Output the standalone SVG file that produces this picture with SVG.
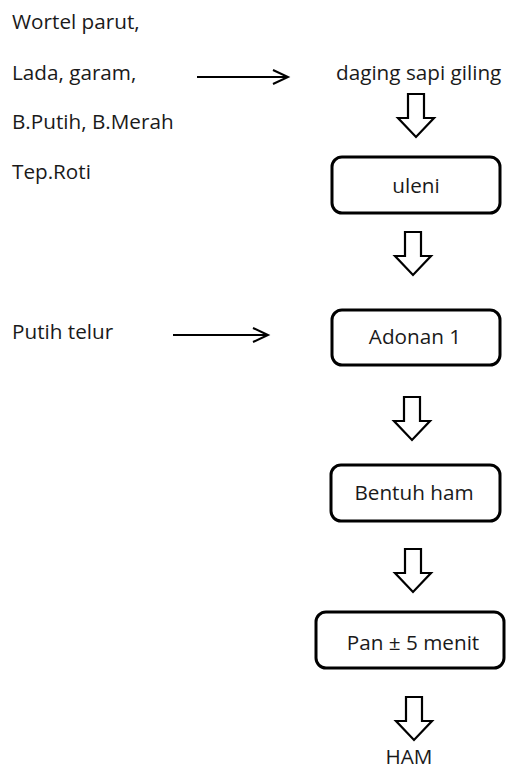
<svg xmlns="http://www.w3.org/2000/svg" width="511" height="774" viewBox="0 0 511 774">
<style>
text{font-family:"Open Sans","Noto Sans",sans-serif;font-size:20.7px;fill:#1a1a1a}
.c{text-anchor:middle}
.box{fill:#fff;stroke:#000;stroke-width:3}
.line{stroke:#000;stroke-width:2;fill:none}
.head{stroke:#000;stroke-width:2;fill:none;stroke-linejoin:miter}
.blk{fill:#fff;stroke:#000;stroke-width:2.2;stroke-linejoin:miter}
</style>
<defs>
<path id="ba" d="M-8,0 H8 V24 H18 L0,43 L-18,24 H-8 Z"/>
</defs>
<rect width="511" height="774" fill="#fff"/>
<g id="ingredients">
<text x="12" y="29">Wortel parut,</text>
<text x="12" y="80">Lada, garam,</text>
<text x="12" y="129">B.Putih, B.Merah</text>
<text x="12" y="179">Tep.Roti</text>
</g>
<g id="putih-telur"><text x="12" y="339">Putih telur</text></g>
<g id="daging"><text x="336" y="80">daging sapi giling</text></g>
<g id="uleni"><rect class="box" x="332" y="157" width="168" height="56" rx="10"/><text class="c" x="416" y="193">uleni</text></g>
<g id="adonan1"><rect class="box" x="332" y="310" width="168" height="55" rx="10"/><text class="c" x="415" y="344">Adonan 1</text></g>
<g id="bentuk-ham"><rect class="box" x="331" y="465" width="169" height="56" rx="10"/><text class="c" x="414" y="500">Bentuh ham</text></g>
<g id="pan"><rect class="box" x="316" y="612" width="188" height="56" rx="10"/><text class="c" x="413" y="650">Pan ± 5 menit</text></g>
<g id="ham"><text class="c" x="409" y="764">HAM</text></g>
<g id="connectors">
<path class="line" d="M197,77 H287"/>
<path class="head" d="M273,70 L288,77 L273,84"/>
<path class="line" d="M173,335 H267"/>
<path class="head" d="M253,328 L268,335 L253,342"/>
<use href="#ba" class="blk" x="416" y="94"/>
<use href="#ba" class="blk" x="413" y="232"/>
<use href="#ba" class="blk" x="412" y="397"/>
<use href="#ba" class="blk" x="413" y="549"/>
<use href="#ba" class="blk" x="414" y="697"/>
</g>
</svg>
